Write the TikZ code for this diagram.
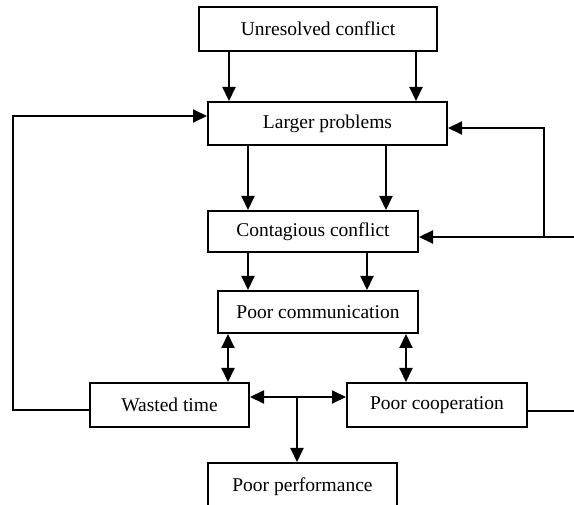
\documentclass[tikz,border=0pt]{standalone}
\usepackage{fontspec}
\setmainfont{Liberation Serif}
\usetikzlibrary{arrows.meta}
\begin{document}
\begin{tikzpicture}[x=1pt,y=-1pt,
  box/.style={draw,line width=2pt,inner sep=0pt,font=\fontsize{19.5}{21}\selectfont},
  conn/.style={line width=2pt},
  arr/.style={conn,-{Triangle[length=14pt,width=13pt]}},
  darr/.style={conn,{Triangle[length=14pt,width=13pt]}-{Triangle[length=14pt,width=13pt]}}]
\clip (0,0) rectangle (574,505);
\node[box,minimum width=238pt,minimum height=44pt] (uc) at (318,29) {Unresolved conflict};
\node[box,minimum width=239pt,minimum height=43pt] (lp) at (327.5,123.5) {Larger problems};
\node[box,minimum width=210pt,minimum height=41pt] (cc) at (313,231.5) {Contagious conflict};
\node[box,minimum width=200pt,minimum height=42pt] (pcom) at (318,312) {Poor communication};
\node[box,minimum width=159pt,minimum height=44pt] (wt) at (169.5,405) {Wasted time};
\node[box,minimum width=180pt,minimum height=44pt] (pc) at (437,405) {Poor cooperation};
\node[box,minimum width=189pt,minimum height=44pt,text depth=0pt] (pp) at (302.5,485) {Poor performance};
\coordinate (ja) at (297,397);
\coordinate (lc1) at (13,410);
\coordinate (lc2) at (13,116);
\coordinate (re1) at (574,411);
\coordinate (re2) at (574,237);
\coordinate (rj) at (544,237);
\coordinate (rt) at (544,128);
% Unresolved -> Larger
\draw[arr] (uc.south -| 229,0) -- (lp.north -| 229,0);
\draw[arr] (uc.south -| 416,0) -- (lp.north -| 416,0);
% Larger -> Contagious
\draw[arr] (lp.south -| 248,0) -- (cc.north -| 248,0);
\draw[arr] (lp.south -| 386,0) -- (cc.north -| 386,0);
% Contagious -> Poor communication
\draw[arr] (cc.south -| 248,0) -- (pcom.north -| 248,0);
\draw[arr] (cc.south -| 367,0) -- (pcom.north -| 367,0);
% Poor communication <-> Wasted time / Poor cooperation
\draw[darr] (pcom.south -| 228,0) -- (wt.north -| 228,0);
\draw[darr] (pcom.south -| 406,0) -- (pc.north -| 406,0);
% Wasted time <-> Poor cooperation, -> Poor performance
\draw[darr] (wt.east |- ja) -- (pc.west |- ja);
\draw[arr] (ja) -- (pp.north -| ja);
% left loop
\draw[arr] (wt.west |- lc1) -- (lc1) -- (lc2) -- (lp.west |- lc2);
% right loop
\draw[conn] (pc.east |- re1) -- (re1);
\draw[arr] (re2) -- (cc.east |- re2);
\draw[arr] (rj) -- (rt) -- (lp.east |- rt);
\end{tikzpicture}
\end{document}
